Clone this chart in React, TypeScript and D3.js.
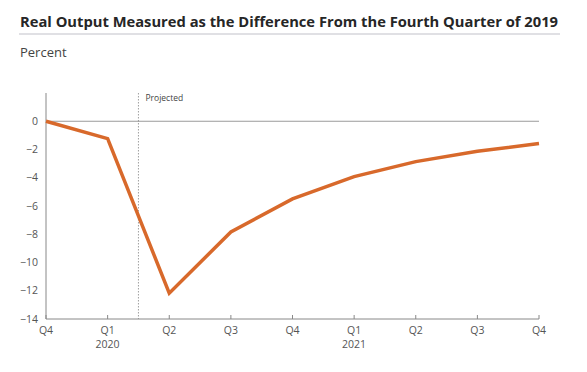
import * as d3 from "d3";

const quarters = ["Q4", "Q1", "Q2", "Q3", "Q4", "Q1", "Q2", "Q3", "Q4"];
const years = ["", "2020", "", "", "", "2021", "", "", ""];
const output = [0, -1.23, -12.17, -7.84, -5.5, -3.92, -2.86, -2.13, -1.58];
const yTicks = [0, -2, -4, -6, -8, -10, -12, -14];
const projectedAt = 1.5;

const width = 587;
const height = 372;
const marginLeft = 46;
const marginRight = 48;
const plotTop = 93;
const plotBottom = 319;

export default function App() {
  const x = d3
    .scaleLinear()
    .domain([0, quarters.length - 1])
    .range([marginLeft, width - marginRight]);

  const y = d3.scaleLinear().domain([-14, 2]).range([plotBottom, plotTop]);

  const line = d3
    .line<number>()
    .x((_, i) => x(i))
    .y(d => y(d));

  const font = "'Open Sans', 'Noto Sans', sans-serif";

  return (
    <svg
      width={width}
      height={height}
      style={{ position: "absolute", left: 0, top: 0, background: "#fff" }}
      fontFamily={font}
    >
      {/* title */}
      <text
        x={20}
        y={27}
        fontSize={14.8}
        fontWeight="bold"
        fill="#262626"
        textLength={538}
        lengthAdjust="spacingAndGlyphs"
      >
        Real Output Measured as the Difference From the Fourth Quarter of 2019
      </text>
      <line x1={19} x2={560} y1={34} y2={34} stroke="#e0e0e4" strokeWidth={2} />
      <text x={20} y={57} fontSize={13} fill="#444">
        Percent
      </text>

      {/* zero line */}
      <line x1={marginLeft} x2={x(quarters.length - 1)} y1={y(0)} y2={y(0)} stroke="#9a9a9a" strokeWidth={1} />

      {/* projected marker */}
      <line
        x1={x(projectedAt)}
        x2={x(projectedAt)}
        y1={plotTop}
        y2={plotBottom}
        stroke="#888"
        strokeWidth={0.8}
        strokeDasharray="1.5,1.5"
      />
      <text x={x(projectedAt) + 7} y={101} fontSize={8.5} fill="#444">
        Projected
      </text>

      {/* y axis */}
      <line x1={marginLeft} x2={marginLeft} y1={plotTop} y2={plotBottom} stroke="#888" />
      {yTicks.map(t => (
        <text key={t} x={38} y={y(t)} dy="0.35em" textAnchor="end" fontSize={10.5} fill="#555">
          {t < 0 ? `\u2212${Math.abs(t)}` : t}
        </text>
      ))}

      {/* x axis */}
      <line x1={marginLeft} x2={x(quarters.length - 1)} y1={plotBottom} y2={plotBottom} stroke="#888" />
      {quarters.map((q, i) => (
        <g key={i}>
          <line x1={x(i)} x2={x(i)} y1={plotBottom} y2={plotBottom - 4} stroke="#888" />
          <text x={x(i)} y={334} textAnchor="middle" fontSize={10.5} fill="#555">
            {q}
          </text>
          {years[i] && (
            <text x={x(i)} y={348} textAnchor="middle" fontSize={10.5} fill="#555">
              {years[i]}
            </text>
          )}
        </g>
      ))}

      {/* series */}
      <path
        d={line(output) || undefined}
        fill="none"
        stroke="#d8692b"
        strokeWidth={3.5}
        strokeLinejoin="miter"
      />
    </svg>
  );
}
